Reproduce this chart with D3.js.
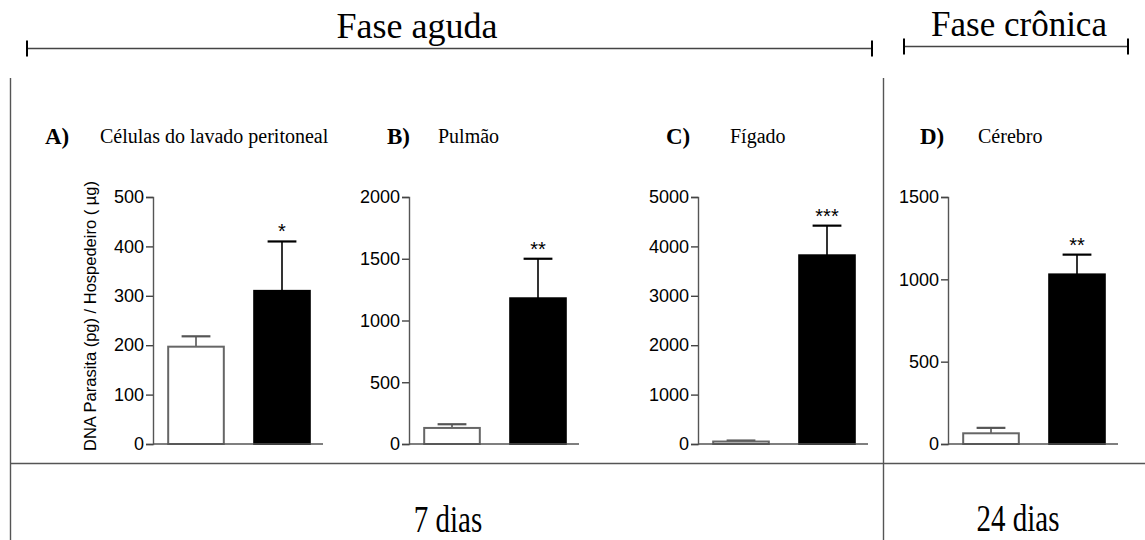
<!DOCTYPE html>
<html>
<head>
<meta charset="utf-8">
<script src="https://cdn.jsdelivr.net/npm/d3@7"></script>
<style>
  html, body { margin: 0; padding: 0; background: #fff; }
  svg { display: block; }
</style>
</head>
<body>
<svg id="chart" width="1145" height="540"></svg>
<script>
// Parasite DNA load per organ: control (white) vs infected (black) groups
const panelLetters = ["A)", "B)", "C)", "D)"];
const panelTitles = ["Células do lavado peritoneal", "Pulmão", "Fígado", "Cérebro"];
const groups = ["controle", "infectado"];
const yMaxes = [500, 2000, 5000, 1500];
const yTickSteps = [100, 500, 1000, 500];
const controlMeans = [197, 130, 50, 65];
const controlErrors = [21, 30, 20, 33];
const infectedMeans = [310, 1180, 3820, 1030];
const infectedErrors = [100, 320, 600, 120];
const significance = ["*", "**", "***", "**"];
const phaseLabels = ["Fase aguda", "Fase crônica"];
const periodLabels = ["7 dias", "24 dias"];
const yAxisTitle = "DNA Parasita (pg) / Hospedeiro ( \u00b5g)";

// layout
const axisLeft = [153, 409, 698, 948];
const plotWidth = 172;
const yTop = 197, yBottom = 444;
const serif = "'Liberation Serif', 'Times New Roman', serif";
const sans = "'Liberation Sans', Arial, sans-serif";

const svg = d3.select("#chart");

// frame separators
const frame = svg.append("g").attr("stroke", "#555").attr("stroke-width", 1.4).attr("fill", "none");
frame.append("line").attr("x1", 10.5).attr("x2", 10.5).attr("y1", 78).attr("y2", 540);
frame.append("line").attr("x1", 883.5).attr("x2", 883.5).attr("y1", 78).attr("y2", 540);
frame.append("line").attr("x1", 10).attr("x2", 1145).attr("y1", 463.5).attr("y2", 463.5);

// phase brackets
function bracket(x1, x2, y, h) {
  const g = svg.append("g");
  g.append("line").attr("x1", x1).attr("x2", x2).attr("y1", y).attr("y2", y)
    .attr("stroke", "#444").attr("stroke-width", 1.6);
  [x1, x2].forEach(x => g.append("line").attr("x1", x).attr("x2", x)
    .attr("y1", y - h / 2).attr("y2", y + h / 2)
    .attr("stroke", "#000").attr("stroke-width", 2));
}
bracket(27, 872, 48.5, 16);
bracket(904, 1128, 46.5, 16);

svg.append("text").attr("x", 417).attr("y", 38).attr("text-anchor", "middle")
  .attr("font-family", serif).attr("font-size", 36).text(phaseLabels[0]);
svg.append("text").attr("x", 1019).attr("y", 36).attr("text-anchor", "middle")
  .attr("font-family", serif).attr("font-size", 35).text(phaseLabels[1]);

// period labels, drawn slightly condensed
[[448, 532, periodLabels[0]], [1018, 531, periodLabels[1]]].forEach(([x, y, t]) => {
  svg.append("text")
    .attr("transform", `translate(${x},${y}) scale(1,1.3)`)
    .attr("text-anchor", "middle")
    .attr("font-family", serif).attr("font-size", 29).text(t);
});

// panel headings
const letterX = [45, 387, 666, 920];
const titleX = [100, 438, 730, 978];
panelLetters.forEach((l, i) => {
  svg.append("text").attr("x", letterX[i]).attr("y", 144)
    .attr("font-family", serif).attr("font-weight", "bold").attr("font-size", 23).text(l);
  svg.append("text").attr("x", titleX[i]).attr("y", 143)
    .attr("font-family", serif).attr("font-size", 20).text(panelTitles[i]);
});

// y axis title
svg.append("text")
  .attr("transform", "translate(96,316) rotate(-90)")
  .attr("text-anchor", "middle")
  .attr("font-family", sans).attr("font-size", 16.5).text(yAxisTitle);

// bar panels
panelLetters.forEach((_, i) => {
  const g = svg.append("g").attr("transform", `translate(${axisLeft[i]},0)`);
  const y = d3.scaleLinear().domain([0, yMaxes[i]]).range([yBottom, yTop]);
  const x = d3.scaleBand().domain(groups).range([0, plotWidth]).paddingInner(0.33).paddingOuter(0.165);

  const rows = [
    { group: groups[0], mean: controlMeans[i], err: controlErrors[i], fill: "#fff", stroke: "#666" },
    { group: groups[1], mean: infectedMeans[i], err: infectedErrors[i], fill: "#000", stroke: "#000" }
  ];

  // error bars (upper only)
  rows.forEach(d => {
    const cx = x(d.group) + x.bandwidth() / 2;
    const capW = x.bandwidth() / 2;
    g.append("line").attr("x1", cx).attr("x2", cx)
      .attr("y1", y(d.mean)).attr("y2", y(d.mean + d.err))
      .attr("stroke", d.group === groups[0] ? "#555" : "#000").attr("stroke-width", 1.6);
    g.append("line").attr("x1", cx - capW / 2).attr("x2", cx + capW / 2)
      .attr("y1", y(d.mean + d.err)).attr("y2", y(d.mean + d.err))
      .attr("stroke", d.group === groups[0] ? "#555" : "#000").attr("stroke-width", 2.2);
  });

  g.selectAll("rect.bar").data(rows).join("rect")
    .attr("class", "bar")
    .attr("x", d => x(d.group) + 1)
    .attr("width", x.bandwidth() - 2)
    .attr("y", d => y(d.mean))
    .attr("height", d => yBottom - y(d.mean))
    .attr("fill", d => d.fill)
    .attr("stroke", d => d.stroke)
    .attr("stroke-width", 2);

  // significance marker
  const inf = rows[1];
  g.append("text")
    .attr("x", x(inf.group) + x.bandwidth() / 2)
    .attr("y", y(inf.mean + inf.err) - 3)
    .attr("text-anchor", "middle")
    .attr("font-family", sans).attr("font-size", 20)
    .text(significance[i]);

  // y axis
  const yAxis = d3.axisLeft(y).tickValues(d3.range(0, yMaxes[i] + 1, yTickSteps[i]))
    .tickSize(7).tickPadding(2).tickFormat(d3.format("d"));
  const ax = g.append("g").call(yAxis);
  ax.select(".domain").attr("stroke", "#555").attr("stroke-width", 1.4);
  ax.selectAll(".tick line").attr("stroke", "#444").attr("stroke-width", 1.4);
  ax.selectAll(".tick text").attr("font-family", sans).attr("font-size", 18).attr("fill", "#000");

  // baseline
  g.append("line").attr("x1", 0).attr("x2", plotWidth - 2)
    .attr("y1", yBottom).attr("y2", yBottom)
    .attr("stroke", "#555").attr("stroke-width", 1.4);
});
</script>
</body>
</html>
